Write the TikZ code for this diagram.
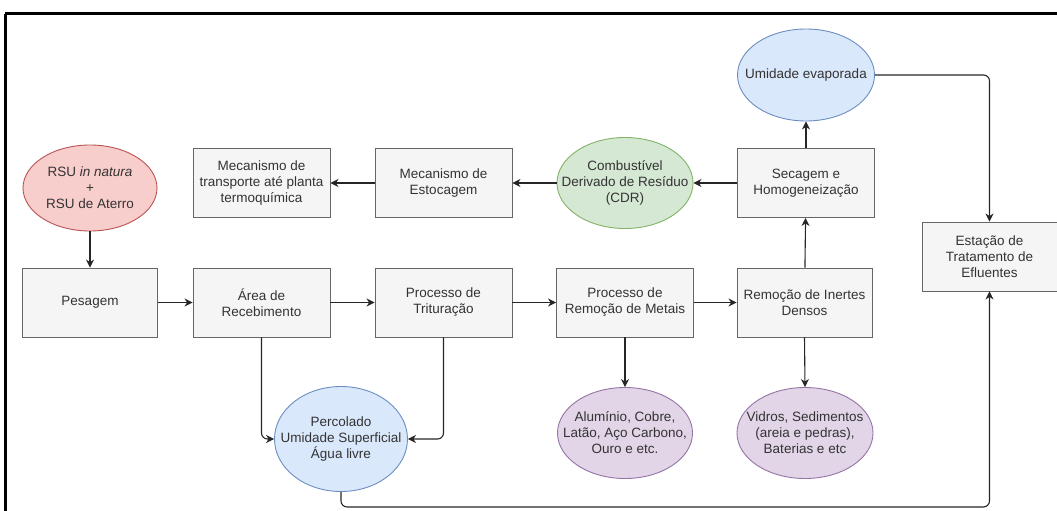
\documentclass[tikz,border=0pt]{standalone}
\usepackage{fontspec}
\setmainfont{Liberation Sans}
\usetikzlibrary{shapes.geometric,arrows.meta,calc}
\definecolor{boxfill}{HTML}{F5F5F5}
\definecolor{boxline}{HTML}{666666}
\definecolor{txt}{HTML}{333333}
\definecolor{redfill}{HTML}{F8CECC}
\definecolor{redline}{HTML}{B85450}
\definecolor{bluefill}{HTML}{DAE8FC}
\definecolor{blueline}{HTML}{6C8EBF}
\definecolor{greenfill}{HTML}{D5E8D4}
\definecolor{greenline}{HTML}{82B366}
\definecolor{purpfill}{HTML}{E1D5E7}
\definecolor{purpline}{HTML}{9673A6}
\tikzset{
  base/.style={font=\fontsize{13.5}{16}\selectfont, text=txt, align=center, inner sep=0pt, line width=0.9pt},
  procbox/.style={base, rectangle, draw=boxline, fill=boxfill, minimum width=137pt, minimum height=69pt},
  oval/.style={base, ellipse, minimum width=136pt, minimum height=91pt},
  redoval/.style={oval, draw=redline, fill=redfill},
  blueoval/.style={oval, draw=blueline, fill=bluefill},
  greenoval/.style={oval, draw=greenline, fill=greenfill},
  purpoval/.style={oval, draw=purpline, fill=purpfill},
  ovaltext/.style={base},
  conn/.style={draw=black!85, line width=1.1pt, -{Stealth[length=8pt,width=8pt,inset=2.5pt]}, rounded corners=6pt}
}
\begin{document}
\begin{tikzpicture}[x=1pt,y=-1pt]
\useasboundingbox (0,0) rectangle (1057,511);
\begin{scope}
\clip (0,0) rectangle (1057,511);
\draw[line width=3pt] (5,14) -- (1070,14);
\draw[line width=3pt] (5,14) -- (5,520);
\end{scope}
% top row
\node[blueoval, minimum width=137pt, minimum height=92pt] (umi) at (806,75) {};
\node[ovaltext] at (umi) {Umidade evaporada};
\node[procbox] (tra) at (261.5,183) {Mecanismo de\\transporte até planta\\termoquímica};
\node[procbox] (est) at (443.5,183) {Mecanismo de\\Estocagem};
\node[greenoval] (cdr) at (625,183) {};
\node[ovaltext] at (cdr) {Combustível\\Derivado de Resíduo\\(CDR)};
\node[procbox] (sec) at (806,183) {Secagem e\\Homogeneização};
\node[redoval, minimum width=134pt, minimum height=86pt] (rsu) at (90,188) {};
\node[ovaltext] at (rsu) {RSU \textit{in natura}\\+\\RSU de Aterro};
% middle row
\node[procbox, minimum width=135pt] (pes) at (90,302.5) {Pesagem};
\node[procbox] (are) at (261.5,302.5) {Área de\\Recebimento};
\node[procbox] (tri) at (443.5,302.5) {Processo de\\Trituração};
\node[procbox] (met) at (625,302.5) {Processo de\\Remoção de Metais};
\node[procbox, minimum width=135pt] (ine) at (804.5,302.5) {Remoção de Inertes\\Densos};
\node[procbox, minimum width=135pt] (eta) at (989.5,256.5) {Estação de\\Tratamento de\\Efluentes};
% bottom row
\node[blueoval, minimum width=133pt, minimum height=105pt] (per) at (341,439) {};
\node[ovaltext] at (per) {Percolado\\Umidade Superficial\\Água livre};
\node[purpoval, minimum width=135pt] (alu) at (625,433) {};
\node[ovaltext] at (alu) {Alumínio, Cobre,\\Latão, Aço Carbono,\\Ouro e etc.};
\node[purpoval] (vid) at (805,433) {};
\node[ovaltext] at (vid) {Vidros, Sedimentos\\(areia e pedras),\\Baterias e etc};
% connectors
\draw[conn] (rsu) -- (pes);
\draw[conn] (pes) -- (are);
\draw[conn] (are) -- (tri);
\draw[conn] (tri) -- (met);
\draw[conn] (met) -- (ine);
\draw[conn] (ine) -- (sec);
\draw[conn] (sec) -- (umi);
\draw[conn] (sec) -- (cdr);
\draw[conn] (cdr) -- (est);
\draw[conn] (est) -- (tra);
\draw[conn] (met) -- (alu);
\draw[conn] (ine.south) -- (vid.north);
\draw[conn] (umi.east) -| (eta.north);
\draw[conn] (are.south) |- (per.west);
\draw[conn] (tri.south) |- (per.east);
\draw[conn] (per.south) -- ++(0,15) -| (eta.south);
\end{tikzpicture}
\end{document}
